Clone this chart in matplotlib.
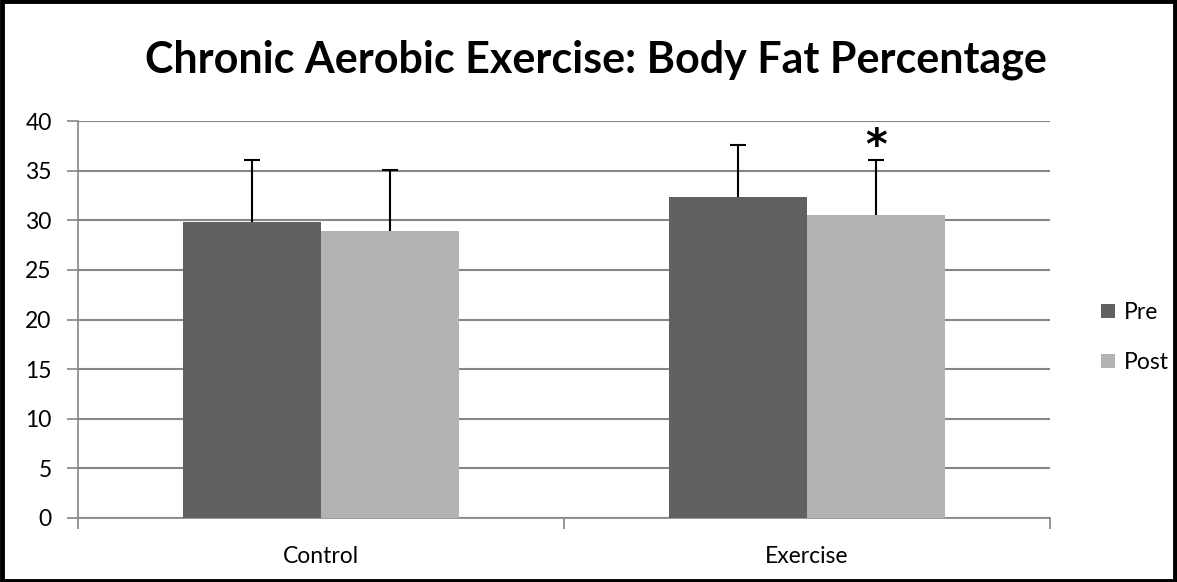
import matplotlib
matplotlib.use('Agg')
import matplotlib.pyplot as plt
from matplotlib.patches import Rectangle
import numpy as np

groups = ['Control', 'Exercise']
pre_vals = [29.85, 32.3]
post_vals = [28.95, 30.5]
pre_err = [6.2, 5.25]
post_err = [6.1, 5.6]
series = ['Pre', 'Post']
colors = ['#616161', '#b3b3b3']

plt.rcParams['font.family'] = ['Lato', 'DejaVu Sans']

fig = plt.figure(figsize=(11.77, 5.82), dpi=100)
ax = fig.add_axes([0.0663, 0.110, 0.8257, 0.682])

x = np.arange(len(groups))
w = 0.284
for off, vals, errs, col, lab in [(-w/2, pre_vals, pre_err, colors[0], series[0]),
                                  (w/2, post_vals, post_err, colors[1], series[1])]:
    ax.bar(x + off, vals, w, color=col, label=lab, zorder=3)
    eb = ax.errorbar(x + off, vals, yerr=[[0] * len(errs), errs], fmt='none',
                     ecolor='black', elinewidth=1.5, capsize=5.5, capthick=1.5, zorder=4)
    # only the upper cap is drawn
    eb[1][0].set_visible(False)

# significance marker on Exercise post
ax.text(1 + w/2, post_vals[1] + post_err[1] + 1.3, '*', ha='center', va='center',
        fontsize=30, fontweight='bold', family='DejaVu Sans')

ax.set_xlim(-0.5, 1.5)
ax.set_ylim(0, 40)
ax.set_yticks(range(0, 41, 5))
ax.set_xticks(x)
ax.set_xticklabels(groups)
ax.set_xticks([-0.5, 0.5, 1.5], minor=True)
ax.tick_params(axis='x', which='major', length=0, pad=20, labelsize=16.5)
ax.tick_params(axis='x', which='minor', length=8, color='#868686', width=1.2)
ax.tick_params(axis='y', length=8, color='#868686', width=1.2, labelsize=16.5, pad=11)
ax.yaxis.grid(True, color='#868686', linewidth=1.5, zorder=0)
ax.set_axisbelow(True)
for s in ['top', 'right']:
    ax.spines[s].set_visible(False)
for s in ['left', 'bottom']:
    ax.spines[s].set_color('#868686')
    ax.spines[s].set_linewidth(1.2)

fig.text(0.506, 0.897, 'Chronic Aerobic Exercise: Body Fat Percentage', ha='center', va='center',
         fontsize=31, fontweight='bold')

fig.legend(loc='center left', bbox_to_anchor=(0.918, 0.42), frameon=False,
           fontsize=16.5, handlelength=0.6, handleheight=0.6, labelspacing=1.25,
           handletextpad=0.4)

fig.patches.append(Rectangle((0.0015, 0.0025), 0.997, 0.995, transform=fig.transFigure,
                             fill=False, edgecolor='black', linewidth=3.5))

plt.savefig('out.png', dpi=100)
